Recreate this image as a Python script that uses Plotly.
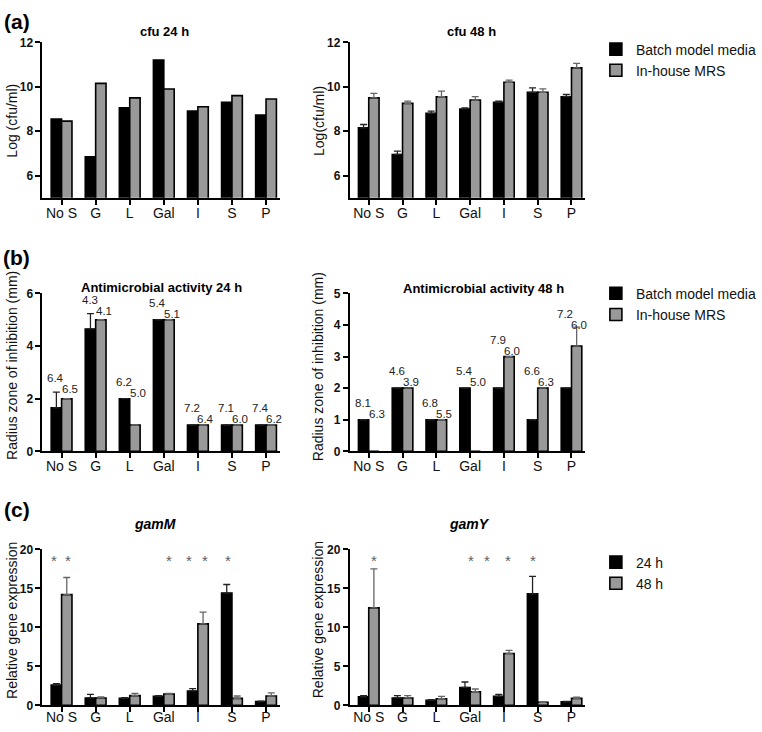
import plotly.graph_objects as go

# ---------------- data ----------------
categories = ["No S", "G", "L", "Gal", "I", "S", "P"]

cfu24_batch = [8.55, 6.85, 9.05, 11.2, 8.9, 9.3, 8.72]
cfu24_mrs = [8.45, 10.15, 9.5, 9.9, 9.1, 9.6, 9.45]

cfu48_batch = [8.15, 6.95, 8.8, 9.0, 9.3, 9.75, 9.55]
cfu48_batch_err = [0.15, 0.15, 0.1, 0.05, 0.05, 0.2, 0.1]
cfu48_mrs = [9.5, 9.25, 9.55, 9.4, 10.2, 9.75, 10.85]
cfu48_mrs_err = [0.2, 0.1, 0.25, 0.15, 0.1, 0.15, 0.2]

am24_batch = [1.65, 4.65, 2, 5, 1, 1, 1]
am24_batch_err = [0.6, 0.58, 0, 0, 0, 0, 0]
am24_mrs = [2, 5, 1, 5, 1, 1, 1]
am24_mrs_err = [0, 0, 0, 0, 0, 0, 0]
am24_batch_lbl = ["6.4", "4.3", "6.2", "5.4", "7.2", "7.1", "7.4"]
am24_mrs_lbl = ["6.5", "4.1", "5.0", "5.1", "6.4", "6.0", "6.2"]

am48_batch = [1, 2, 1, 2, 2, 1, 2]
am48_batch_err = [0, 0, 0, 0, 0, 0, 0]
am48_mrs = [0, 2, 1, 0, 3, 2, 3.33]
am48_mrs_err = [0, 0, 0, 0, 0, 0, 0.6]
am48_batch_lbl = ["8.1", "4.6", "6.8", "5.4", "7.9", "6.6", "7.2"]
am48_mrs_lbl = ["6.3", "3.9", "5.5", "5.0", "6.0", "6.3", "6.0"]

gamM_24 = [2.6, 0.95, 0.9, 1.15, 1.85, 14.4, 0.5]
gamM_24_err = [0.2, 0.45, 0.1, 0.1, 0.3, 1.1, 0.05]
gamM_48 = [14.2, 0.95, 1.25, 1.45, 10.45, 0.9, 1.2]
gamM_48_err = [2.2, 0.15, 0.3, 0.1, 1.5, 0.3, 0.4]

gamY_24 = [1.1, 0.95, 0.65, 2.3, 1.15, 14.3, 0.45]
gamY_24_err = [0.15, 0.3, 0.1, 0.7, 0.25, 2.25, 0.05]
gamY_48 = [12.5, 0.95, 0.85, 1.75, 6.65, 0.4, 0.9]
gamY_48_err = [5.0, 0.3, 0.3, 0.35, 0.4, 0.05, 0.15]

gamM_star_cats = ["No S", "No S", "Gal", "I", "I", "S"]
gamY_star_cats = ["No S", "Gal", "Gal", "I", "S"]
star_level = 19

# ---------------- style ----------------
W, H = 762, 732
FONT = "Liberation Sans, Arial, sans-serif"
BLACK = "#000000"
GRAY = "#999999"

def px_x(p):
    return p / W

def px_y(p):
    return 1 - p / H

fig = go.Figure()

panels = [
    ("x", "y", cfu24_batch, None, cfu24_mrs, None, "legend", "Batch model media", "In-house MRS"),
    ("x2", "y2", cfu48_batch, cfu48_batch_err, cfu48_mrs, cfu48_mrs_err, None, "Batch model media", "In-house MRS"),
    ("x3", "y3", am24_batch, am24_batch_err, am24_mrs, am24_mrs_err, "legend2", "Batch model media", "In-house MRS"),
    ("x4", "y4", am48_batch, am48_batch_err, am48_mrs, am48_mrs_err, None, "Batch model media", "In-house MRS"),
    ("x5", "y5", gamM_24, gamM_24_err, gamM_48, gamM_48_err, "legend3", "24 h", "48 h"),
    ("x6", "y6", gamY_24, gamY_24_err, gamY_48, gamY_48_err, None, "24 h", "48 h"),
]

for xa, ya, v1, e1, v2, e2, leg, n1, n2 in panels:
    for vals, errs, col, ecol, name in ((v1, e1, BLACK, "#222222", n1), (v2, e2, GRAY, "#666666", n2)):
        kw = {}
        if errs is not None:
            kw["error_y"] = dict(type="data", symmetric=False, array=errs,
                                 arrayminus=[0] * len(errs), color=ecol,
                                 thickness=1.3, width=3.5)
        fig.add_trace(go.Bar(
            x=categories, y=vals, name=name, xaxis=xa, yaxis=ya,
            marker=dict(color=col, line=dict(color=BLACK, width=1.6)),
            showlegend=leg is not None, legend=leg if leg else "legend",
            hoverinfo="skip", **kw))

# axes
x_left = [px_x(43), px_x(283)]
x_right = [px_x(354), px_x(592)]
rows = {
    "a": [px_y(194.5), px_y(36)],
    "b": [px_y(453), px_y(292)],
    "c": [px_y(712), px_y(553)],
}

def xaxis(domain, anchor, standoff):
    return dict(domain=domain, anchor=anchor, type="category",
                range=[-0.56, 6.4], showline=True, linecolor=BLACK, linewidth=2,
                ticks="outside", ticklen=5, tickwidth=1.5, tickcolor=BLACK,
                ticklabelstandoff=standoff,
                tickfont=dict(family=FONT, size=14, color="#111"),
                showgrid=False, zeroline=False, fixedrange=True)

def yaxis(domain, anchor, rng, dtick):
    return dict(domain=domain, anchor=anchor, range=rng, dtick=dtick,
                showline=True, linecolor=BLACK, linewidth=2,
                ticks="outside", ticklen=5, tickwidth=1.5, tickcolor=BLACK,
                tickfont=dict(family=FONT, size=12, color="#111", weight="bold"),
                showgrid=False, zeroline=False, fixedrange=True)

fig.update_layout(
    xaxis=xaxis(x_left, "y", -4), yaxis=yaxis(rows["a"], "x", [5, 12], 2),
    xaxis2=xaxis(x_right, "y2", -4), yaxis2=yaxis(rows["a"], "x2", [5, 12], 2),
    xaxis3=xaxis(x_left, "y3", -4), yaxis3=yaxis(rows["b"], "x3", [0, 6], 2),
    xaxis4=xaxis(x_right, "y4", -4), yaxis4=yaxis(rows["b"], "x4", [0, 5], 1),
    xaxis5=xaxis(x_left, "y5", -7), yaxis5=yaxis(rows["c"], "x5", [0, 20], 5),
    xaxis6=xaxis(x_right, "y6", -7), yaxis6=yaxis(rows["c"], "x6", [0, 20], 5),
)

ann = []

def text(x, y, s, size=14, bold=False, italic=False, angle=0, color="#111"):
    ann.append(dict(xref="paper", yref="paper", x=px_x(x), y=px_y(y), text=s,
                    showarrow=False, xanchor="center", yanchor="middle",
                    textangle=angle,
                    font=dict(family=FONT, size=size, color=color,
                              weight="bold" if bold else "normal",
                              style="italic" if italic else "normal")))

# panel letters
text(17, 15, "(a)", size=21, bold=True, color="#000")
text(17, 255, "(b)", size=21, bold=True, color="#000")
text(17, 512, "(c)", size=21, bold=True, color="#000")

# titles
text(166, 25, "cfu 24 h", size=13, bold=True, color="#000")
text(477, 25, "cfu 48 h", size=13, bold=True, color="#000")
text(163, 286, "Antimicrobial activity 24 h", size=13, bold=True, color="#000")
text(489, 287, "Antimicrobial activity 48 h", size=13, bold=True, color="#000")
text(157, 527, "gamM", size=14, bold=True, italic=True, color="#000")
text(475, 527, "gamY", size=14, bold=True, italic=True, color="#000")

# y axis titles
text(12, 116, "Log (cfu/ml)", angle=-90)
text(323, 116, "Log(cfu/ml)", angle=-90)
text(12, 365, "Radius zone of inhibition (mm)", angle=-90)
text(322, 367, "Radius zone of inhibition (mm)", angle=-90)
text(12, 625, "Relative gene expression", angle=-90)
text(322, 625, "Relative gene expression", angle=-90)

# value labels in (b)
def bar_labels(xa, ya, b, be, m, me, bl, ml):
    for i, c in enumerate(categories):
        top = max(b[i] + 0.8 * be[i], m[i] + 0.8 * me[i])
        for lbl, xs, ys in ((bl[i], -6, 17), (ml[i], 8, 6)):
            ann.append(dict(xref=xa, yref=ya, x=c, y=top, text=lbl, showarrow=False,
                            xshift=xs, yshift=ys, xanchor="center", yanchor="middle",
                            borderpad=0,
                            font=dict(family=FONT, size=11.5, color="#222")))

bar_labels("x3", "y3", am24_batch, am24_batch_err, am24_mrs, am24_mrs_err, am24_batch_lbl, am24_mrs_lbl)
bar_labels("x4", "y4", am48_batch, am48_batch_err, am48_mrs, am48_mrs_err, am48_batch_lbl, am48_mrs_lbl)

# significance stars in (c)
def stars(xa, ya, cats, shifts):
    for c, s in zip(cats, shifts):
        ann.append(dict(xref=xa, yref=ya, x=c, y=star_level, text="*", showarrow=False,
                        xshift=s, yshift=-3, xanchor="center", yanchor="middle",
                        font=dict(family=FONT, size=15, color="#606060")))

stars("x5", "y5", gamM_star_cats, [-8, 6, 5, -9, 7, -4])
stars("x6", "y6", gamY_star_cats, [5, 1, 17, 4, -5])

legend_style = dict(xanchor="left", yanchor="top", bgcolor="rgba(0,0,0,0)",
                    font=dict(family=FONT, size=14, color="#111"),
                    itemclick=False, itemdoubleclick=False, tracegroupgap=0)

fig.update_layout(
    width=W, height=H, margin=dict(l=0, r=0, t=0, b=0),
    paper_bgcolor="white", plot_bgcolor="white",
    barmode="group", bargap=0.39, bargroupgap=0,
    annotations=ann,
    legend=dict(x=px_x(603), y=px_y(27), **legend_style),
    legend2=dict(x=px_x(603), y=px_y(276), **legend_style),
    legend3=dict(x=px_x(603), y=px_y(550), **legend_style),
    font=dict(family=FONT),
)

fig.write_html("out.html", config={"displayModeBar": False},
               post_script="document.body.style.margin='0';document.body.style.overflow='hidden';")
